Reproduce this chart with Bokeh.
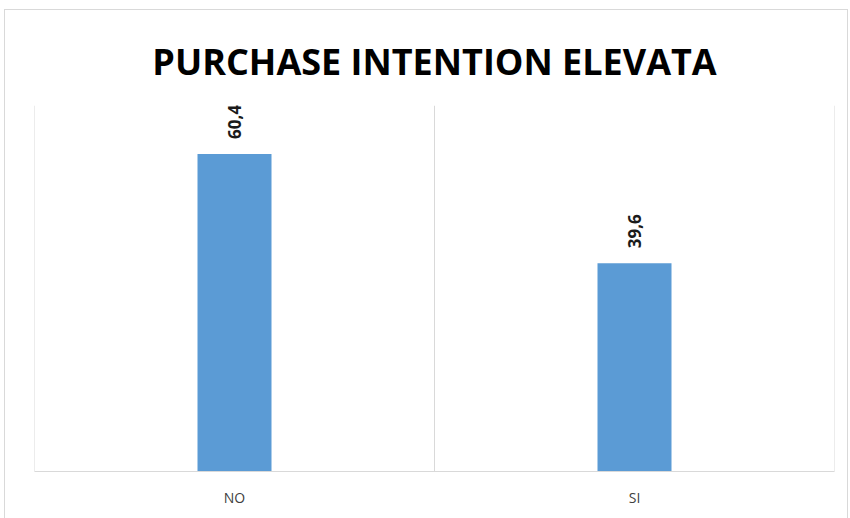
import math
from bokeh.plotting import figure
from bokeh.models import ColumnDataSource, LabelSet, Span, FactorRange, Range1d
from bokeh.core.properties import value
from bokeh.embed import file_html
from bokeh.resources import INLINE

# ---- data ----
categories = ["NO", "SI"]
values = [60.4, 39.6]
value_labels = ["60,4", "39,6"]
title_text = "PURCHASE INTENTION ELEVATA"

src = ColumnDataSource(dict(cat=categories, val=values, lab=value_labels))

p = figure(
    x_range=FactorRange(*categories, range_padding=0, factor_padding=0),
    y_range=Range1d(0, 69.6),
    width=844, height=509,
    output_backend="svg", toolbar_location=None,
    min_border_left=29, min_border_right=15, min_border_top=95, min_border_bottom=48,
    title=title_text,
)
p.margin = (9, 0, 0, 4)
p.styles = {"border-top": "1px solid #d9d9d9", "border-left": "1px solid #d9d9d9",
            "border-right": "1px solid #d9d9d9"}

p.title.align = "center"
p.title.vertical_align = "top"
p.title.text_font = "Open Sans"
p.title.text_font_style = "bold"
p.title.text_font_size = "36px"
p.title.text_line_height = 1.1
p.title.text_color = "#000000"
p.title.standoff = 36

p.outline_line_color = None
p.background_fill_color = "white"
p.border_fill_color = "white"

p.vbar(x="cat", top="val", width=0.185, source=src, color="#5B9BD5", line_color=None)

labels = LabelSet(x="cat", y="val", text="lab", source=src, angle=math.pi / 2,
                  text_align="left", text_baseline="middle", y_offset=15,
                  text_font=value("Open Sans"), text_font_style=value("bold"),
                  text_font_size=value("17px"), text_color="#1a1a1a")
p.add_layout(labels)

# separators between categories (synthetic coordinates of the factor range)
for i in range(len(categories) + 1):
    p.add_layout(Span(location=i, dimension="height", line_color="#d9d9d9", line_width=1))

p.xgrid.visible = False
p.ygrid.visible = False
p.yaxis.visible = False

p.xaxis.axis_line_color = "#d9d9d9"
p.xaxis.axis_line_width = 1
p.xaxis.major_tick_line_color = None
p.xaxis.minor_tick_line_color = None
p.xaxis.major_label_text_font = "Open Sans"
p.xaxis.major_label_text_font_size = "14px"
p.xaxis.major_label_text_color = "#404040"
p.xaxis.major_label_standoff = 10

open("out.html", "w").write(file_html(p, INLINE))
